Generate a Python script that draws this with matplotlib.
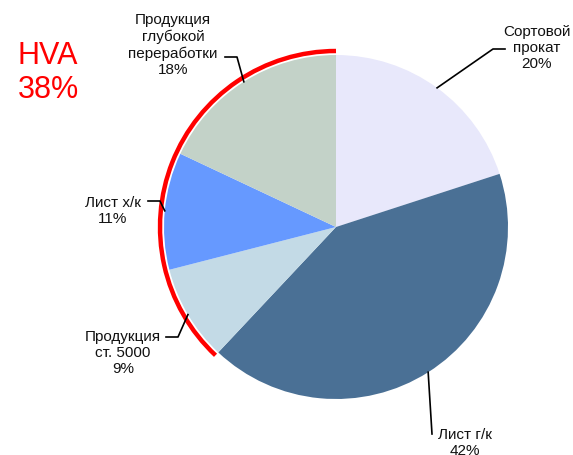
import numpy as np
import matplotlib
matplotlib.use("Agg")
import matplotlib.pyplot as plt
from matplotlib.patches import Arc

plt.rcParams['font.family'] = ['Liberation Sans', 'DejaVu Sans']

# slice data (clockwise from 12 o'clock)
names = ['Сортовой\nпрокат', 'Лист г/к', 'Продукция\nст. 5000', 'Лист х/к',
         'Продукция\nглубокой\nпереработки']
shares = [20, 42, 9, 11, 18]
colors = ['#E8E8FB', '#4A7095', '#C3DAE6', '#6699FF', '#C3D2C8']
hva_share = 38  # ст. 5000 + х/к + глубокой переработки

W, H = 573, 456
fig = plt.figure(figsize=(W / 100, H / 100), dpi=100)
ax = fig.add_axes([0, 0, 1, 1])

cx, cy, r = 336, 456 - 228, 172
wedges, _ = ax.pie(shares, colors=colors, startangle=90, counterclock=False,
                   center=(cx, cy), radius=r, wedgeprops=dict(linewidth=0))

# red arc over the HVA slices
end_hva = 90 - (shares[0] + shares[1]) / 100 * 360 + 360
ax.add_patch(Arc((cx, cy), 2 * (r + 4), 2 * (r + 4), theta1=90, theta2=end_hva,
                 color='#FF0000', lw=3.2, zorder=5))

# label layout: elbow points and text anchors in image pixels
elbows = [[(493, 50), (505, 50)],
          [(432, 435)],
          [(178, 338), (166, 338)],
          [(160, 202), (148, 202)],
          [(237, 58), (225, 58)]]
text_pos = [(537, 48), (465, 443), (123, 353), (113, 211), (173, 45)]

for w, name, share, elb, tp in zip(wedges, names, shares, elbows, text_pos):
    ang = np.deg2rad((w.theta1 + w.theta2) / 2)
    x0, y0 = cx + r * np.cos(ang), cy + r * np.sin(ang)
    xs = [x0] + [p[0] for p in elb]
    ys = [y0] + [H - p[1] for p in elb]
    ax.plot(xs, ys, color='black', lw=1.2, zorder=6)
    ax.text(tp[0], H - tp[1], f'{name}\n{share}%', ha='center', va='center',
            fontsize=11, color='#111111', linespacing=1.22)

ax.text(48, H - 73, f'HVA\n{hva_share}%', ha='center', va='center',
        fontsize=22, color='#FF0000', linespacing=1.2)

ax.set_xlim(0, W)
ax.set_ylim(0, H)
ax.set_aspect('equal')
ax.axis('off')

plt.savefig('out.png', dpi=100)
